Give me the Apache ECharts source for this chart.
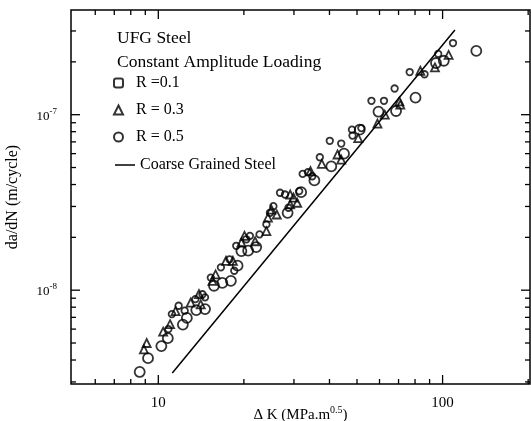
<!DOCTYPE html>
<html><head><meta charset="utf-8">
<script src="https://cdn.jsdelivr.net/npm/echarts@6/dist/echarts.min.js"></script>
<style>html,body{margin:0;padding:0;background:#fff}#c{width:531px;height:421px}</style>
</head><body><div id="c"></div>
<script>
const FONT = 'Liberation Serif';
const seriesNames = ['R =0.1', 'R = 0.3', 'R = 0.5', 'Coarse Grained Steel'];
const titleLines = ['UFG Steel', 'Constant Amplitude Loading'];

// R = 0.1
const r01 = [[8.6,3.42e-9],[9.2,4.1e-9],[10.25,4.8e-9],[10.8,5.33e-9],[12.2,6.37e-9],[12.6,6.95e-9],
  [13.6,7.7e-9],[14.6,7.8e-9],[16.8,1.1e-8],[18.0,1.13e-8],[15.7,1.06e-8],[19.0,1.38e-8],
  [20.7,1.68e-8],[22.1,1.76e-8],[19.6,1.67e-8],[28.5,2.76e-8],[31.8,3.62e-8],[35.4,4.22e-8],
  [40.6,5.08e-8],[45.0,6.0e-8],[51.1,8.22e-8],[59.5,1.04e-7],[68.6,1.05e-7],[80.3,1.25e-7],
  [94.8,1.97e-7],[101,2.03e-7],[131.4,2.31e-7]];
// R = 0.3
const r03 = [[9.1,5.0e-9],[8.9,4.6e-9],[10.4,5.8e-9],[11.0,6.4e-9],[11.5,7.6e-9],[13.0,8.5e-9],
  [14.1,8.3e-9],[13.9,9.5e-9],[15.9,1.23e-8],[17.3,1.47e-8],[15.5,1.13e-8],[18.3,1.47e-8],
  [19.6,1.87e-8],[21.9,1.9e-8],[24.0,2.17e-8],[20.1,2.04e-8],[24.3,2.59e-8],[26.1,2.7e-8],
  [25.0,2.88e-8],[29.1,3.51e-8],[29.9,3.37e-8],[30.8,3.15e-8],[29.1,3.08e-8],[34.3,4.77e-8],
  [37.6,5.25e-8],[42.7,5.93e-8],[44.0,5.55e-8],[50.5,7.35e-8],[59.0,8.9e-8],[62.6,1.0e-7],
  [70.5,1.19e-7],[71.0,1.14e-7],[83.5,1.78e-7],[94.0,1.86e-7],[105,2.19e-7]];
// R = 0.5
const r05 = [[10.85,6.0e-9],[11.16,7.31e-9],[11.79,8.15e-9],[12.38,7.64e-9],[13.5,8.89e-9],
  [14.3,9.48e-9],[14.6,9.1e-9],[15.3,1.18e-8],[16.6,1.35e-8],[17.8,1.5e-8],[18.5,1.29e-8],
  [18.8,1.79e-8],[20.4,1.95e-8],[21.0,2.04e-8],[22.7,2.08e-8],[24.0,2.37e-8],[24.7,2.76e-8],
  [25.4,3.01e-8],[28.7,2.95e-8],[26.8,3.59e-8],[27.9,3.51e-8],[31.3,3.67e-8],[32.2,4.6e-8],
  [33.6,4.7e-8],[34.8,4.46e-8],[37.0,5.72e-8],[40.1,7.1e-8],[44.0,6.85e-8],[48.2,7.6e-8],
  [48.0,8.22e-8],[51.8,8.39e-8],[56.2,1.2e-7],[62.2,1.2e-7],[67.8,1.41e-7],[76.6,1.75e-7],
  [86.4,1.7e-7],[96.5,2.22e-7],[108.8,2.56e-7]];
// Coarse grained steel
const coarse = [[11.2,3.37e-9],[110.5,3.04e-7]];

const xMajorTicks = [10, 100];
const xMinorTicks = [6,7,8,9,20,30,40,50,60,70,80,90,200];
const yMajorTicks = [1e-8, 1e-7];
const yMinorTicks = [3e-9,4e-9,5e-9,6e-9,7e-9,8e-9,9e-9,2e-8,3e-8,4e-8,5e-8,6e-8,7e-8,8e-8,9e-8,2e-7,3e-7];

const X_MIN = 4.93, X_MAX = 203, Y_MIN = 2.92e-9, Y_MAX = 3.95e-7;

function isDecade(v) { const l = Math.log10(v); return Math.abs(l - Math.round(l)) < 1e-6; }

function tickSeries(values, axis, len) {
  return {
    type: 'custom', silent: true, clip: false, z: 10,
    data: values.map(v => axis === 'x' ? [v, Y_MIN] : [X_MIN, v]),
    renderItem(params, api) {
      const cs = params.coordSys;
      const p = api.coord([api.value(0), api.value(1)]);
      const st = { stroke: '#000', lineWidth: 1.3 };
      let shapes;
      if (axis === 'x') {
        shapes = [{ x1: p[0], y1: cs.y + cs.height, x2: p[0], y2: cs.y + cs.height - len },
                  { x1: p[0], y1: cs.y, x2: p[0], y2: cs.y + len }];
      } else {
        shapes = [{ x1: cs.x, y1: p[1], x2: cs.x + len, y2: p[1] },
                  { x1: cs.x + cs.width, y1: p[1], x2: cs.x + cs.width - len, y2: p[1] }];
      }
      return { type: 'group', children: shapes.map(s => ({ type: 'line', shape: s, style: st })) };
    }
  };
}

const markStyle = { color: 'rgba(0,0,0,0)', borderColor: '#000', borderWidth: 1.8 };
const txt = { fontFamily: FONT, color: '#000', fontSize: 16 };

const chart = echarts.init(document.getElementById('c'));
chart.setOption({
  animation: false,
  backgroundColor: '#fff',
  title: {
    text: titleLines.join('\n'), left: 117, top: 26, padding: 0,
    textStyle: { fontFamily: FONT, color: '#000', fontSize: 17.5, fontWeight: 'normal', lineHeight: 24 }
  },
  legend: [
    { orient: 'vertical', left: 113, top: 75, padding: 0, itemWidth: 9, itemHeight: 9, itemGap: 11,
      selectedMode: false,
      data: [{ name: seriesNames[0], icon: 'roundRect' }, seriesNames[1], seriesNames[2]],
      textStyle: Object.assign({ padding: [0, 0, 0, 8], lineHeight: 16 }, txt) },
    { orient: 'vertical', left: 115, top: 157, padding: 0, itemWidth: 20, itemHeight: 1.5,
      selectedMode: false, data: [{ name: seriesNames[3], icon: 'rect' }],
      textStyle: Object.assign({ lineHeight: 16 }, txt) }
  ],
  grid: { left: 71, top: 10, right: 1, bottom: 37, show: true, borderColor: '#000', borderWidth: 1.5,
          backgroundColor: 'transparent', containLabel: false, outerBoundsMode: 'none' },
  xAxis: {
    type: 'log', logBase: 10, min: X_MIN, max: X_MAX,
    axisLine: { show: false }, axisTick: { show: false }, splitLine: { show: false },
    axisLabel: { formatter: v => isDecade(v) ? String(Math.round(v)) : '', fontFamily: FONT, fontSize: 15,
                 color: '#000', margin: 12 },
    name: '{a|Δ K (MPa.m}{s|0.5}{a|)}', nameLocation: 'middle', nameGap: 21, nameMoveOverlap: false,
    nameTextStyle: { fontFamily: FONT, color: '#000', rich: {
      a: { fontFamily: FONT, fontSize: 15, color: '#000', lineHeight: 18, verticalAlign: 'bottom' },
      s: { fontFamily: FONT, fontSize: 10, color: '#000', lineHeight: 10, verticalAlign: 'top' } } }
  },
  yAxis: {
    type: 'log', logBase: 10, min: Y_MIN, max: Y_MAX,
    axisLine: { show: false }, axisTick: { show: false }, splitLine: { show: false },
    axisLabel: {
      formatter: v => isDecade(v) ? '{b|10}{s|' + Math.round(Math.log10(v)) + '}' : '',
      margin: 14,
      rich: {
        b: { fontFamily: FONT, fontSize: 13, color: '#000', lineHeight: 16, verticalAlign: 'bottom' },
        s: { fontFamily: FONT, fontSize: 9, color: '#000', lineHeight: 9, verticalAlign: 'top' }
      }
    },
    name: 'da/dN (m/cycle)', nameLocation: 'middle', nameGap: 50, nameMoveOverlap: false,
    nameTextStyle: { fontFamily: FONT, color: '#000', fontSize: 16 }
  },
  series: [
    { type: 'scatter', name: seriesNames[0], data: r01, symbol: 'circle', symbolSize: 10, itemStyle: markStyle, z: 3 },
    { type: 'scatter', name: seriesNames[1], data: r03, symbol: 'triangle', symbolSize: 8, itemStyle: markStyle, z: 3 },
    { type: 'scatter', name: seriesNames[2], data: r05, symbol: 'circle', symbolSize: 6.5, itemStyle: markStyle, z: 3 },
    { type: 'line', name: seriesNames[3], data: coarse, symbol: 'none', lineStyle: { color: '#000', width: 1.5 },
      itemStyle: { color: '#000' }, z: 2 },
    tickSeries(xMajorTicks, 'x', 9),
    tickSeries(xMinorTicks, 'x', 5),
    tickSeries(yMajorTicks, 'y', 9),
    tickSeries(yMinorTicks, 'y', 5)
  ]
});
</script></body></html>
